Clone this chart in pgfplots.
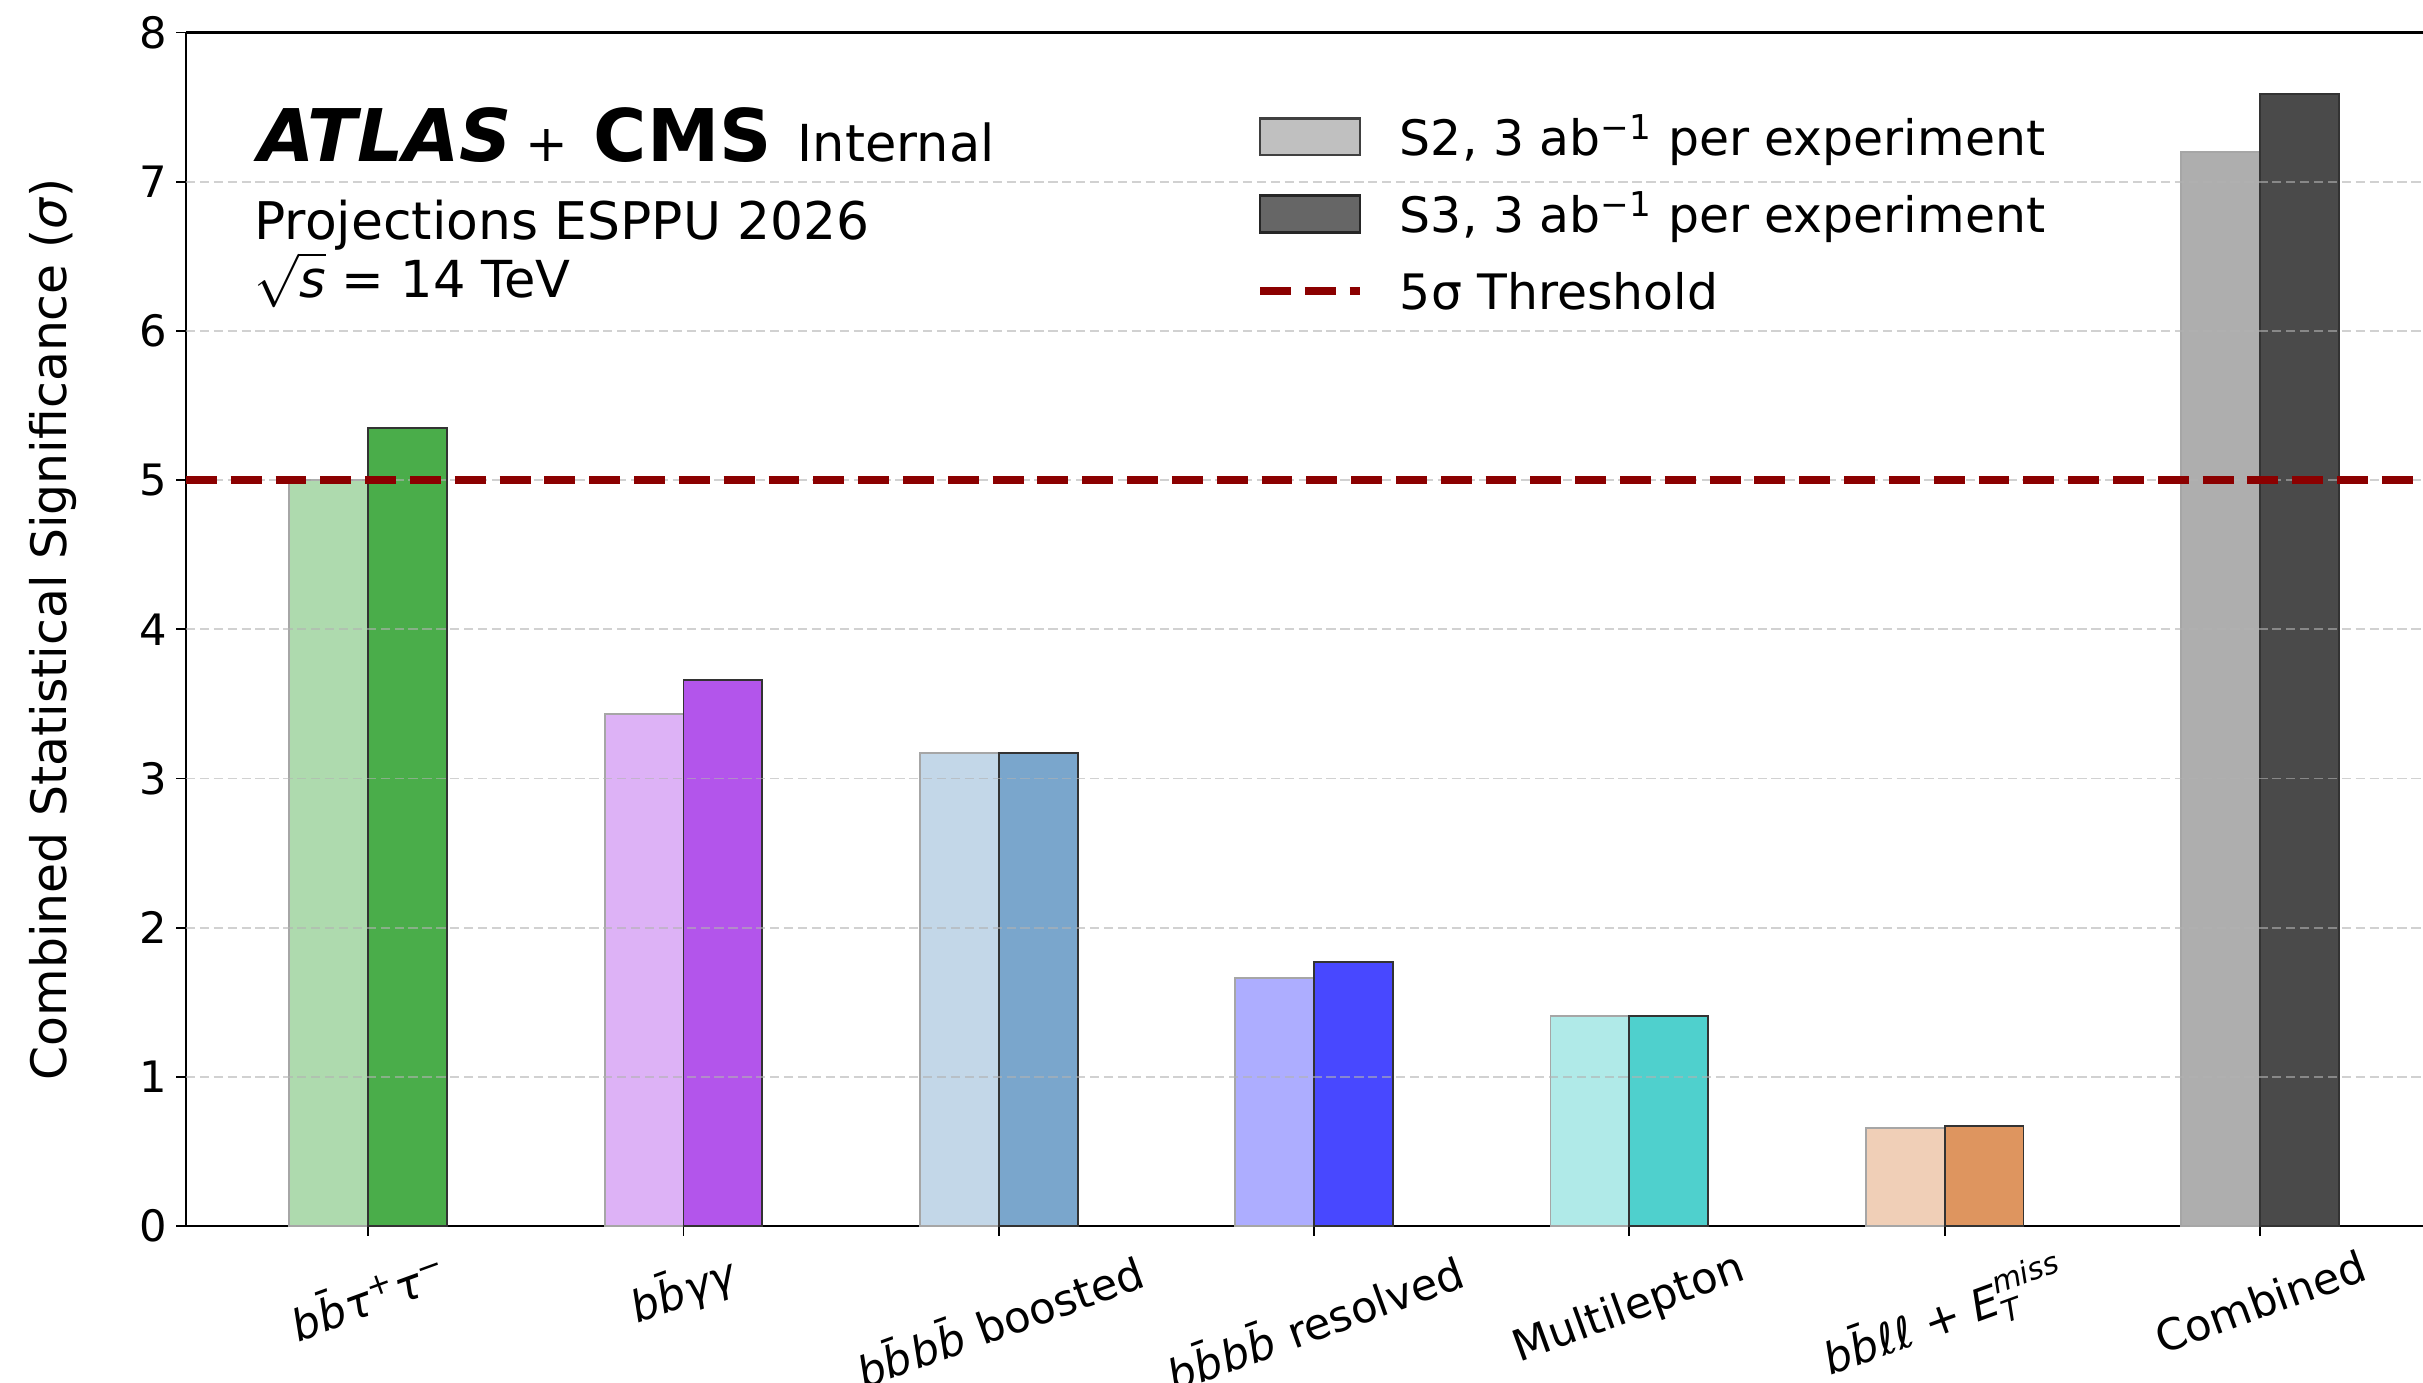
\documentclass[border=0pt]{standalone}
\usepackage{amsmath}
\usepackage{fontspec}
\setmainfont{DejaVu Sans}
\usepackage{graphicx}
\usepackage{pgfplots}
\pgfplotsset{compat=1.18}
\definecolor{g3}{HTML}{4AAD4A}
\definecolor{p3}{HTML}{B355EB}
\definecolor{s3}{HTML}{7AA6CC}
\definecolor{b3}{HTML}{4848FF}
\definecolor{c3}{HTML}{4FD0CD}
\definecolor{o3}{HTML}{DE955F}
\definecolor{k3}{HTML}{4A4A4A}
\colorlet{g2}{g3!45!white}
\colorlet{p2}{p3!45!white}
\colorlet{s2}{s3!45!white}
\colorlet{b2}{b3!45!white}
\colorlet{c2}{c3!45!white}
\colorlet{o2}{o3!45!white}
\colorlet{k2}{k3!45!white}
\definecolor{thr}{HTML}{8B0000}
\definecolor{legS2}{HTML}{C0C0C0}
\definecolor{legS3}{HTML}{666666}
\newcommand{\bbar}{\textit{b\={b}}}
\pgfplotsset{
  s2bar/.style={ybar, bar width=0.25, bar shift=-0.125, fill=#1, draw=black!35, line width=0.6pt, forget plot},
  s3bar/.style={ybar, bar width=0.25, bar shift=0.125, fill=#1, draw=black!80, line width=0.6pt, forget plot},
  gridl/.style={forget plot, draw=gray!60, opacity=0.6, line width=0.6pt, dash pattern=on 3pt off 1.5pt},
}
\begin{document}
\begin{tikzpicture}
\useasboundingbox (-60.15pt,-50.5pt) rectangle (723.8pt,396.7pt);
\begin{axis}[
  scale only axis, width=723.8pt, height=386.2pt,
  xmin=-0.578, xmax=6.517, ymin=0, ymax=8,
  axis y line*=left,
  axis line style={black, line width=0.7pt},
  xtick={0,1,2,3,4,5,6},
  ytick={0,1,2,3,4,5,6,7,8},
  xtick pos=bottom, ytick pos=left,
  tick align=outside,
  major tick length=3.2pt,
  tick style={black, line width=0.6pt},
  /pgf/number format/assume math mode=true,
  yticklabel style={anchor=east, inner sep=0pt, xshift=-2.6pt, font=\fontsize{14}{16}\selectfont},
  xticklabel style={anchor=north, inner sep=0pt, yshift=-3.9pt, font=\fontsize{14}{16}\selectfont},
  xticklabels={
    {\rotatebox{20}{\bbar\textit{τ}\textsuperscript{+}\textit{τ}\textsuperscript{−}}},
    {\rotatebox{20}{\bbar\textit{γγ}}},
    {\rotatebox{20}{\bbar\textit{b\={b}} boosted}},
    {\rotatebox{20}{\bbar\textit{b\={b}} resolved}},
    {\rotatebox{20}{Multilepton}},
    {\rotatebox{20}{\bbar\textit{ℓℓ} + $\text{\itshape E}^{\text{\itshape miss}}_{\text{\itshape T}}$}},
    {\rotatebox{20}{Combined}}
  },
  ylabel={Combined Statistical Significance (\textit{σ})},
  ylabel style={at={(axis description cs:-0.0594,0.5)}, anchor=center, font=\fontsize{15.8}{18}\selectfont},
  legend style={at={(axis description cs:0.4783,0.936)}, anchor=north west, draw=none, fill=none,
    inner sep=0pt, outer sep=0pt, row sep=7pt, column sep=11.5pt,
    font=\fontsize{15.8}{18}\selectfont,
    nodes={inner sep=0pt, text height=15pt, text depth=3pt}},
  legend cell align=left,
]
\addlegendimage{legend image code/.code={\draw[fill=legS2, draw=black!75, line width=0.8pt] (0pt,-5.95pt) rectangle (32.4pt,5.95pt);}}
\addlegendentry{S2, 3 ab\textsuperscript{−1} per experiment}
\addlegendimage{legend image code/.code={\draw[fill=legS3, draw=black!85, line width=0.8pt] (0pt,-5.95pt) rectangle (32.4pt,5.95pt);}}
\addlegendentry{S3, 3 ab\textsuperscript{−1} per experiment}
\addlegendimage{legend image code/.code={\draw[thr, line width=2.7pt, dash pattern=on 10pt off 4.5pt] (0pt,0pt) -- (32.4pt,0pt);}}
\addlegendentry{5σ Threshold}

% S2 bars
\addplot[s2bar=g2] coordinates {(0,5.00)};
\addplot[s2bar=p2] coordinates {(1,3.43)};
\addplot[s2bar=s2] coordinates {(2,3.17)};
\addplot[s2bar=b2] coordinates {(3,1.66)};
\addplot[s2bar=c2] coordinates {(4,1.41)};
\addplot[s2bar=o2] coordinates {(5,0.66)};
\addplot[s2bar=k2] coordinates {(6,7.20)};
% S3 bars
\addplot[s3bar=g3] coordinates {(0,5.35)};
\addplot[s3bar=p3] coordinates {(1,3.66)};
\addplot[s3bar=s3] coordinates {(2,3.17)};
\addplot[s3bar=b3] coordinates {(3,1.77)};
\addplot[s3bar=c3] coordinates {(4,1.41)};
\addplot[s3bar=o3] coordinates {(5,0.67)};
\addplot[s3bar=k3] coordinates {(6,7.59)};
% grid
\addplot[gridl] coordinates {(-0.578,1) (6.517,1)};
\addplot[gridl] coordinates {(-0.578,2) (6.517,2)};
\addplot[gridl] coordinates {(-0.578,3) (6.517,3)};
\addplot[gridl] coordinates {(-0.578,4) (6.517,4)};
\addplot[gridl] coordinates {(-0.578,5) (6.517,5)};
\addplot[gridl] coordinates {(-0.578,6) (6.517,6)};
\addplot[gridl] coordinates {(-0.578,7) (6.517,7)};
% threshold
\addplot[thr, line width=2.7pt, dash pattern=on 10pt off 4.5pt, forget plot] coordinates {(-0.578,5) (6.517,5)};
\end{axis}
\node[anchor=base west, inner sep=0pt] at (23.2pt,344.4pt) {\fontsize{23.5}{26}\selectfont\bfseries\itshape ATLAS};
\node[anchor=base west, inner sep=0pt] at (109.6pt,344.4pt) {\fontsize{16.5}{18}\selectfont +};
\node[anchor=base west, inner sep=0pt] at (131.8pt,344.4pt) {\fontsize{23.5}{26}\selectfont\bfseries CMS};
\node[anchor=base west, inner sep=0pt] at (197.8pt,344.4pt) {\fontsize{16.5}{18}\selectfont Internal};
\node[anchor=base west, inner sep=0pt] at (22pt,319.3pt) {\fontsize{16.8}{18}\selectfont Projections ESPPU 2026};
\node[anchor=base west, inner sep=0pt] at (22pt,300.6pt) {\fontsize{16.5}{18}\selectfont $\sqrt{\mbox{\itshape s}}$ = 14 TeV};
\end{tikzpicture}
\end{document}
